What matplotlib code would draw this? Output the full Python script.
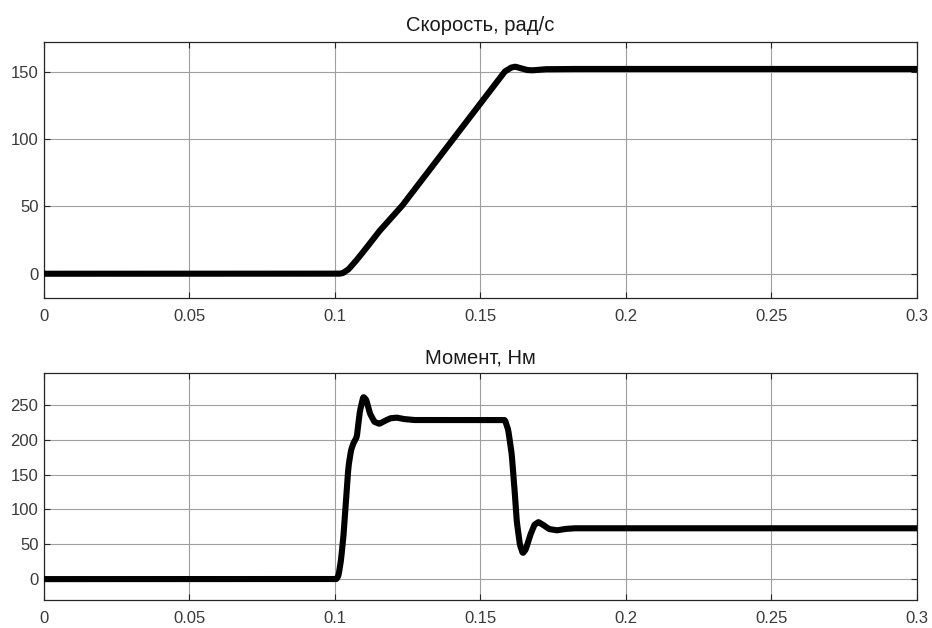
import matplotlib
matplotlib.use("Agg")
import matplotlib.pyplot as plt
import numpy as np

plt.rcParams['font.family'] = ['Liberation Sans', 'DejaVu Sans']

# Speed, rad/s
speed_t = [0.0, 0.1, 0.1015, 0.1027, 0.1045, 0.107, 0.110, 0.1125, 0.1150, 0.1229, 0.1406, 0.150, 0.1583,
           0.1605, 0.1619, 0.1640, 0.1660, 0.1680, 0.1720, 0.180, 0.300]
speed_v = [0.0, 0.0, 0.0, 0.5, 3.0, 9.0, 17.0, 24.0, 31.0, 50.0, 100.0, 126.5, 150.0,
           153.0, 153.7, 152.5, 151.2, 151.0, 151.8, 152.0, 152.0]

# Torque, Nm
torque_t = [0.0, 0.1005, 0.1012, 0.1020, 0.1029, 0.1038, 0.1046, 0.1055, 0.1063, 0.1075, 0.1085, 0.1097,
            0.1107, 0.1120, 0.1135, 0.1152, 0.1170, 0.1190, 0.1212, 0.1235, 0.127, 0.1584, 0.1595,
            0.1607, 0.1616, 0.1624, 0.1635, 0.1645, 0.1655, 0.1670, 0.1685, 0.1699, 0.1715, 0.1735,
            0.1762, 0.179, 0.182, 0.190, 0.300]
torque_v = [0.0, 0.0, 5.0, 25.0, 61.0, 115.0, 161.0, 185.0, 195.0, 204.0, 240.0, 262.0,
            258.0, 238.0, 226.0, 223.0, 227.0, 231.0, 232.0, 230.0, 228.5, 228.5, 215.0,
            181.0, 135.0, 85.0, 50.0, 37.0, 42.0, 62.0, 78.0, 82.0, 78.0, 72.0,
            70.0, 72.0, 73.0, 73.0, 73.0]

x_ticks = [0, 0.05, 0.1, 0.15, 0.2, 0.25, 0.3]
x_labels = ['0', '0.05', '0.1', '0.15', '0.2', '0.25', '0.3']
speed_ticks = [0, 50, 100, 150]
torque_ticks = [0, 50, 100, 150, 200, 250]

def smooth(t, v):
    tt = np.linspace(0, 0.3, 6001)
    vv = np.interp(tt, t, v)
    k = 9
    w = np.ones(k) / k
    vp = np.pad(vv, (k // 2, k // 2), mode='edge')
    return tt, np.convolve(vp, w, mode='valid')

fig = plt.figure(figsize=(9.32, 6.28), dpi=100)
ax1 = fig.add_axes([0.0472, 0.5255, 0.9367, 0.4076])
ax2 = fig.add_axes([0.0472, 0.0446, 0.9367, 0.3614])

tick_color = '#3a3a3a'
for ax, (t, v), yt, ylim, title, tpad in [
    (ax1, (speed_t, speed_v), speed_ticks, (-18, 172), 'Скорость, рад/с', 8),
    (ax2, (torque_t, torque_v), torque_ticks, (-30, 296), 'Момент, Нм', 7),
]:
    tt, vv = smooth(t, v)
    ax.plot(tt, vv, color='black', lw=4.4, solid_capstyle='round', zorder=3)
    ax.set_xlim(0, 0.3)
    ax.set_ylim(*ylim)
    ax.set_xticks(x_ticks)
    ax.set_xticklabels(x_labels)
    ax.set_yticks(yt)
    ax.grid(True, color='#a0a0a0', lw=0.8, zorder=0)
    ax.tick_params(direction='in', length=4, width=0.8, colors='#262626',
                   labelsize=12, labelcolor=tick_color, top=True, right=True)
    ax.tick_params(axis='x', pad=8)
    ax.tick_params(axis='y', pad=4)
    for s in ax.spines.values():
        s.set_color('#262626')
        s.set_linewidth(0.9)
    ax.set_title(title, fontsize=14.5, color='#1a1a1a', pad=tpad)

fig.savefig('out.png', dpi=100, facecolor='white')
